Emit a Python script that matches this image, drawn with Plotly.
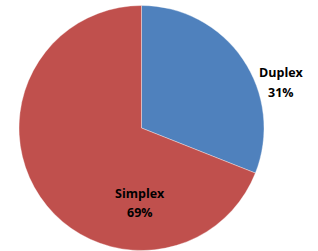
import plotly.graph_objects as go

labels = ["Duplex", "Simplex"]
values = [31, 69]
colors = ["#4F81BD", "#C0504D"]
label_pos = [(281, 73, 92), (140, 193, 212)]  # pixel x, name line y, percent line y

W, H = 318, 251


def px_x(x):
    return x / W


def px_y(y):
    return 1 - y / H


fig = go.Figure(go.Pie(
    labels=labels, values=values, sort=False, direction="clockwise", rotation=0,
    marker=dict(colors=colors, line=dict(color="rgba(255,255,255,0.6)", width=0.6)),
    textinfo="none", hoverinfo="label+percent", showlegend=False,
    domain=dict(x=[px_x(19), px_x(264)], y=[px_y(250.5), px_y(5.5)]),
))
font = dict(family="Open Sans, Liberation Sans, sans-serif", size=12.5, color="#000")
for lab, val, (px, y1, y2) in zip(labels, values, label_pos):
    fig.add_annotation(x=px_x(px), y=px_y(y1), xref="paper", yref="paper",
                       text=f"<b>{lab}</b>", showarrow=False, font=font,
                       xanchor="center", yanchor="middle")
    fig.add_annotation(x=px_x(px), y=px_y(y2), xref="paper", yref="paper",
                       text=f"<b>{val}%</b>", showarrow=False, font=font,
                       xanchor="center", yanchor="middle")
fig.update_layout(width=W, height=H, margin=dict(l=0, r=0, t=0, b=0),
                  paper_bgcolor="white", plot_bgcolor="white")
fig.write_html("out.html", config={"displayModeBar": False},
               post_script="document.body.style.margin='0';document.body.style.overflow='hidden';")
